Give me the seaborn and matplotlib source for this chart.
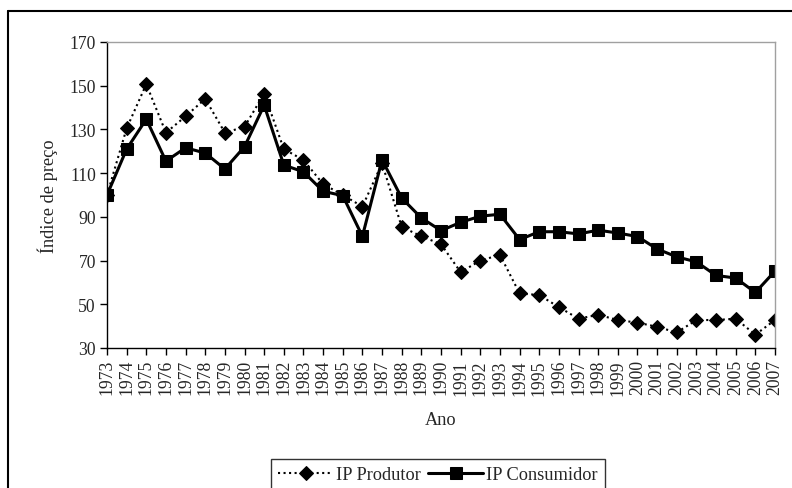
import matplotlib
matplotlib.use("Agg")
import matplotlib.pyplot as plt
from matplotlib.lines import Line2D
import numpy as np
import pandas as pd
import seaborn as sns

anos = list(range(1973, 2008))
ip_produtor = [100, 130.5, 150.7, 128.5, 136, 144, 128.5, 131.2, 146.4, 121,
               116, 105, 100, 94.7, 114.5, 85.4, 81.1, 77.5, 64.7, 70,
               72.6, 55, 54.2, 48.7, 43.4, 45.2, 42.8, 41.6, 39.7, 37.1,
               42.8, 42.8, 43.4, 36.1, 42.8]
ip_consumidor = [100, 121, 134.7, 115.5, 121.6, 119.2, 111.9, 122.1, 141.1, 113.7,
                 110.6, 101.7, 99.7, 81.1, 116.1, 98.6, 89.5, 83.7, 87.5, 90.3,
                 91.2, 79.6, 83.2, 83.2, 82.2, 83.9, 82.6, 81, 75.3, 71.7,
                 69.4, 63.2, 62, 55.4, 65.2]
y_ticks = [30, 50, 70, 90, 110, 130, 150, 170]

df = pd.DataFrame({"Ano": anos, "IP Produtor": ip_produtor, "IP Consumidor": ip_consumidor})

sns.set_style("white")
plt.rcParams['font.family'] = ['Liberation Serif', 'DejaVu Serif']
fs = 12.7
fs_lab = 13.2

fig = plt.figure(figsize=(7.92, 4.89), dpi=100)
ax = fig.add_axes([107 / 792, 1 - 349 / 489, 668 / 792, 306 / 489])

sns.lineplot(data=df, x="Ano", y="IP Produtor", ax=ax, color="black", linestyle=":",
             linewidth=1.5, marker="D", markersize=7, markeredgecolor="black", label="IP Produtor")
sns.lineplot(data=df, x="Ano", y="IP Consumidor", ax=ax, color="black", linestyle="-",
             linewidth=2.2, marker="s", markersize=8, markeredgecolor="black", label="IP Consumidor")

ax.set_xlim(1973, 2007)
ax.set_ylim(30, 170)
ax.set_yticks(y_ticks)
ax.set_xticks(anos)
ax.set_xticklabels([str(a) for a in anos], rotation=90, fontsize=fs)
ax.tick_params(axis="y", labelsize=fs, direction="out", length=5, width=1, left=True, color="black", pad=3)
ax.tick_params(axis="x", direction="out", length=5, width=1, bottom=True, color="black", pad=3)

for s in ["top", "right"]:
    ax.spines[s].set_color("#a0a0a0")
    ax.spines[s].set_linewidth(1)
for s in ["left", "bottom"]:
    ax.spines[s].set_color("black")
    ax.spines[s].set_linewidth(1)

ax.set_xlabel("Ano", fontsize=fs_lab)
ax.set_ylabel("Índice de preço", fontsize=fs_lab)
ax.xaxis.set_label_coords(0.5, -0.206)
ax.yaxis.set_label_coords(-0.073, 0.5)

ax.get_legend().remove()
handles, labels = ax.get_legend_handles_labels()
leg = fig.legend(handles, labels, loc="upper center", bbox_to_anchor=(438 / 792, 1 - 460 / 489),
                 ncol=2, frameon=True, fancybox=False, edgecolor="black", fontsize=fs_lab,
                 handlelength=3.0, columnspacing=0.4, handletextpad=0.15, borderpad=0.4,
                 borderaxespad=0)
leg.get_frame().set_linewidth(1)

# outer chart frame (right/bottom edges fall outside the image)
fig.add_artist(Line2D([8 / 792, 8 / 792], [0, 1 - 12 / 489], color="black", linewidth=1.5,
                      transform=fig.transFigure))
fig.add_artist(Line2D([8 / 792, 1], [1 - 12 / 489, 1 - 12 / 489], color="black", linewidth=1.5,
                      transform=fig.transFigure))

fig.savefig("out.png", dpi=100, facecolor="white")
